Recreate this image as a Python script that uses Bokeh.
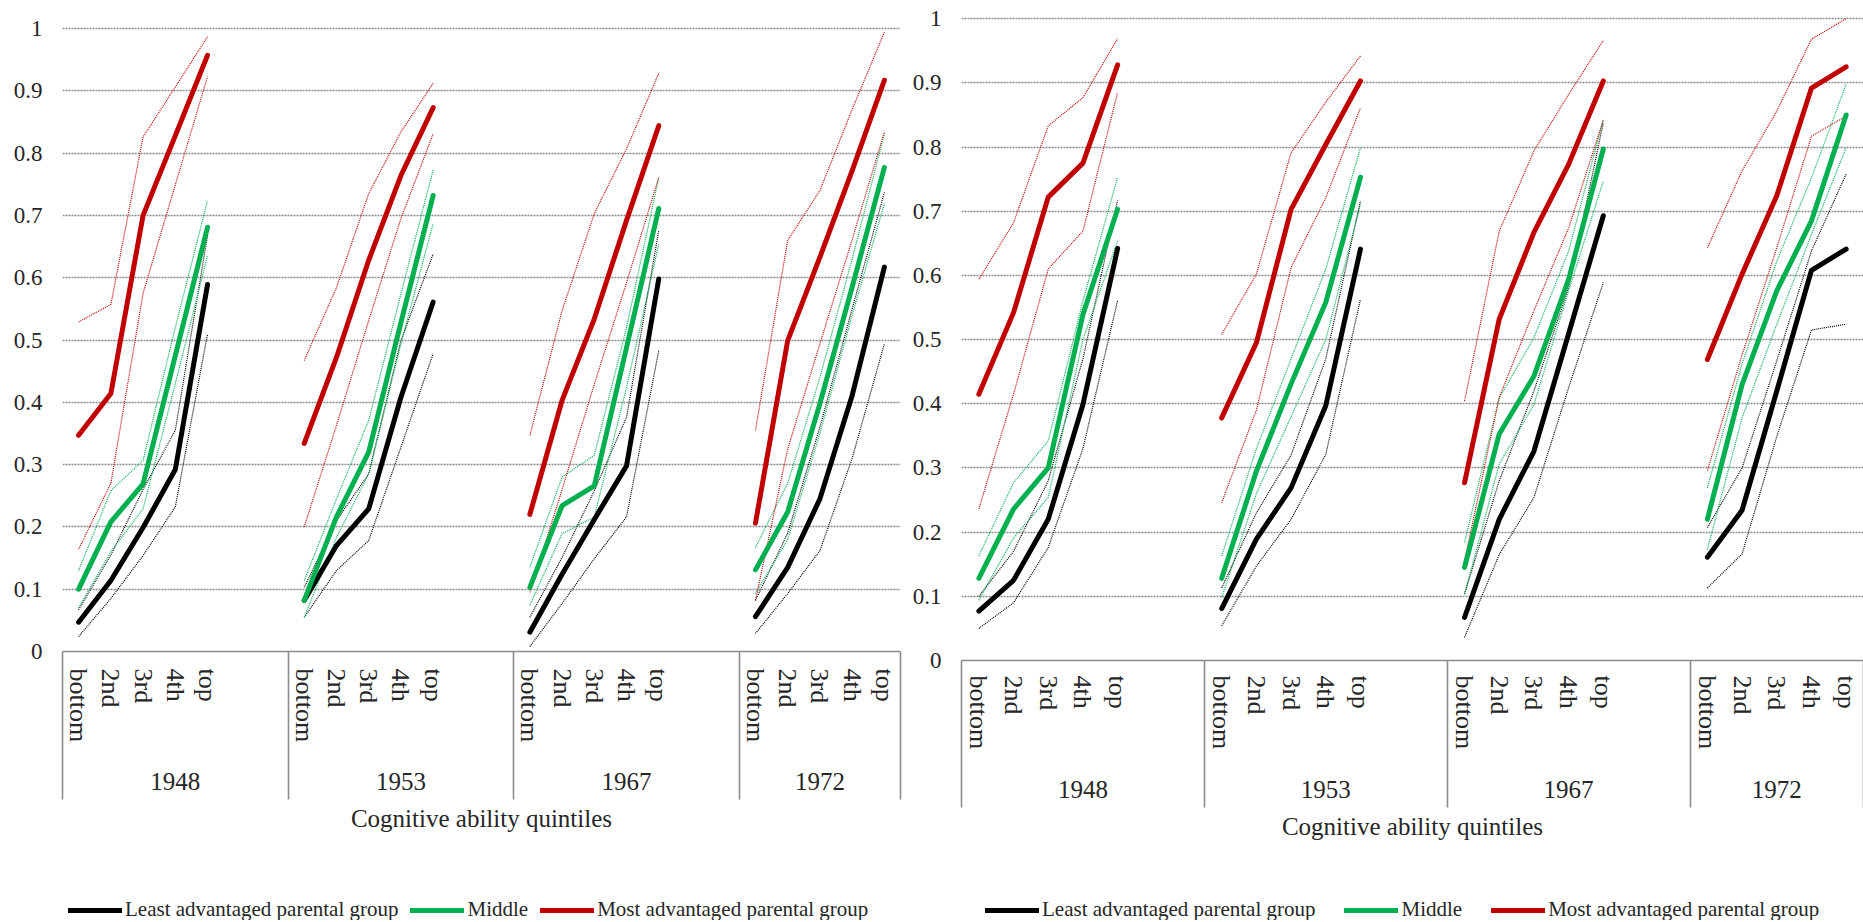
import numpy as np
from bokeh.plotting import figure
from bokeh.models import Range1d, FixedTicker, LinearAxis, Legend, LegendItem, ColumnDataSource
from bokeh.layouts import row, column
from bokeh.embed import file_html
from bokeh.resources import INLINE

# ---------------- data ----------------
QUINTILES = ["bottom", "2nd", "3rd", "4th", "top"]
YEARS = ["1948", "1953", "1967", "1972"]
GROUPS = ["Least advantaged parental group", "Middle", "Most advantaged parental group"]
YTICKS = [0.0, 0.1, 0.2, 0.3, 0.4, 0.5, 0.6, 0.7, 0.8, 0.9, 1.0]
YLABELS = ["0", "0.1", "0.2", "0.3", "0.4", "0.5", "0.6", "0.7", "0.8", "0.9", "1"]

# Left panel (A): 4 years x 5 quintiles each
A_least_est = [0.047, 0.114, 0.199, 0.292, 0.589, 0.082, 0.170, 0.229, 0.408, 0.561,
               0.031, 0.124, 0.212, 0.298, 0.598, 0.056, 0.135, 0.245, 0.411, 0.617]
A_least_lo = [0.024, 0.085, 0.154, 0.232, 0.510, 0.055, 0.130, 0.178, 0.328, 0.478,
              0.008, 0.077, 0.149, 0.216, 0.483, 0.029, 0.093, 0.162, 0.310, 0.494]
A_least_hi = [0.067, 0.155, 0.260, 0.355, 0.668, 0.103, 0.210, 0.285, 0.499, 0.638,
              0.055, 0.151, 0.258, 0.376, 0.676, 0.082, 0.190, 0.360, 0.550, 0.737]
A_mid_est = [0.100, 0.208, 0.269, 0.475, 0.681, 0.082, 0.216, 0.320, 0.528, 0.732,
             0.103, 0.234, 0.266, 0.488, 0.711, 0.131, 0.224, 0.398, 0.585, 0.777]
A_mid_lo = [0.070, 0.160, 0.229, 0.430, 0.636, 0.055, 0.183, 0.285, 0.494, 0.687,
            0.074, 0.189, 0.216, 0.424, 0.654, 0.093, 0.180, 0.350, 0.540, 0.719]
A_mid_hi = [0.130, 0.258, 0.307, 0.520, 0.724, 0.114, 0.245, 0.371, 0.574, 0.773,
            0.135, 0.280, 0.315, 0.520, 0.761, 0.167, 0.270, 0.440, 0.630, 0.831]
A_most_est = [0.347, 0.414, 0.700, 0.828, 0.957, 0.334, 0.472, 0.628, 0.764, 0.873,
              0.220, 0.403, 0.534, 0.692, 0.844, 0.206, 0.499, 0.633, 0.772, 0.917]
A_most_lo = [0.164, 0.270, 0.575, 0.749, 0.923, 0.200, 0.363, 0.531, 0.695, 0.831,
             0.095, 0.260, 0.429, 0.592, 0.761, 0.082, 0.325, 0.494, 0.661, 0.834]
A_most_hi = [0.529, 0.557, 0.826, 0.906, 0.987, 0.467, 0.584, 0.735, 0.834, 0.912,
             0.347, 0.547, 0.703, 0.807, 0.928, 0.355, 0.660, 0.740, 0.870, 0.994]

# Right panel (B)
B_least_est = [0.077, 0.125, 0.220, 0.399, 0.642, 0.081, 0.189, 0.269, 0.397, 0.641,
               0.067, 0.220, 0.326, 0.509, 0.693, 0.161, 0.234, 0.420, 0.608, 0.641]
B_least_lo = [0.050, 0.090, 0.176, 0.330, 0.561, 0.054, 0.147, 0.220, 0.321, 0.563,
              0.036, 0.165, 0.254, 0.425, 0.589, 0.113, 0.166, 0.349, 0.515, 0.524]
B_least_hi = [0.100, 0.170, 0.280, 0.470, 0.717, 0.113, 0.230, 0.320, 0.470, 0.716,
              0.104, 0.280, 0.420, 0.581, 0.838, 0.207, 0.300, 0.467, 0.638, 0.758]
B_mid_est = [0.128, 0.236, 0.300, 0.539, 0.703, 0.128, 0.295, 0.431, 0.558, 0.753,
             0.145, 0.353, 0.443, 0.594, 0.797, 0.220, 0.430, 0.576, 0.685, 0.850]
B_mid_lo = [0.094, 0.191, 0.254, 0.500, 0.654, 0.098, 0.260, 0.380, 0.500, 0.711,
            0.103, 0.306, 0.399, 0.576, 0.747, 0.173, 0.378, 0.524, 0.664, 0.799]
B_mid_hi = [0.163, 0.277, 0.342, 0.560, 0.753, 0.163, 0.330, 0.470, 0.610, 0.799,
            0.184, 0.409, 0.503, 0.638, 0.843, 0.269, 0.462, 0.622, 0.752, 0.898]
B_most_est = [0.415, 0.542, 0.722, 0.775, 0.928, 0.378, 0.495, 0.703, 0.804, 0.903,
              0.277, 0.532, 0.667, 0.773, 0.903, 0.469, 0.602, 0.724, 0.892, 0.925]
B_most_lo = [0.236, 0.415, 0.610, 0.669, 0.885, 0.246, 0.390, 0.612, 0.721, 0.861,
             0.155, 0.410, 0.545, 0.674, 0.842, 0.296, 0.476, 0.643, 0.817, 0.848]
B_most_hi = [0.594, 0.682, 0.833, 0.877, 0.969, 0.508, 0.602, 0.791, 0.870, 0.942,
             0.404, 0.669, 0.794, 0.882, 0.966, 0.643, 0.763, 0.856, 0.968, 1.000]

# ---------------- styling ----------------
FONT = "Liberation Serif"
TXT = "#262626"
COLORS = ["#000000", "#00B050", "#C00000"]
GAP = 2          # empty category slots between year groups
NQ = len(QUINTILES)
STEP = NQ + GAP
NSLOT = STEP * (len(YEARS) - 1) + NQ
MAIN_H = 860
LEG_H = 60
EST_STYLE = dict(line_width=5, line_cap="round", line_join="round")


def segs(vals):
    xs, ys = [], []
    for k in range(len(YEARS)):
        xs.append([STEP * k + q + 0.5 for q in range(NQ)])
        ys.append(list(vals[NQ * k:NQ * (k + 1)]))
    return xs, ys


def make_panel(series, width, left, right, top, frame_h, ymax, sep_len,
               standoff_q, standoff_y, title_standoff):
    p = figure(width=width, height=MAIN_H, x_range=Range1d(0, NSLOT), y_range=Range1d(0, ymax),
               output_backend="svg", toolbar_location=None, title=None,
               min_border_left=left, min_border_right=right, min_border_top=top,
               min_border_bottom=MAIN_H - top - frame_h,
               outline_line_color=None, background_fill_color="white", border_fill_color="white")
    # grid
    p.xgrid.grid_line_color = None
    p.ygrid.ticker = FixedTicker(ticks=YTICKS[1:])
    p.ygrid.grid_line_color = "#8a8a8a"
    p.ygrid.grid_line_dash = "2 1"
    p.ygrid.grid_line_width = 1.4

    # y axis
    ya = p.yaxis[0]
    ya.ticker = FixedTicker(ticks=YTICKS)
    ya.major_label_overrides = dict(zip(YTICKS, YLABELS))
    ya.axis_line_color = None
    ya.major_tick_line_color = None
    ya.minor_tick_line_color = None
    ya.major_tick_out = 0
    ya.major_tick_in = 0
    ya.major_label_standoff = 20
    ya.major_label_text_font = FONT
    ya.major_label_text_font_size = "23px"
    ya.major_label_text_color = TXT

    # x axis 1: quintiles, group separators drawn as (outward) minor ticks
    centers = [STEP * k + q + 0.5 for k in range(len(YEARS)) for q in range(NQ)]
    labels = [QUINTILES[q] for k in range(len(YEARS)) for q in range(NQ)]
    seps = [STEP * k for k in range(len(YEARS))] + [NSLOT]
    xa = p.xaxis[0]
    xa.ticker = FixedTicker(ticks=centers, minor_ticks=seps)
    xa.major_label_overrides = dict(zip(centers, labels))
    xa.major_label_orientation = "vertical"
    xa.major_tick_line_color = None
    xa.major_tick_out = 0
    xa.major_tick_in = 0
    xa.minor_tick_out = 0
    xa.minor_tick_in = -sep_len
    xa.minor_tick_line_color = "#8c8c8c"
    xa.minor_tick_line_width = 1.6
    xa.axis_line_color = "#8c8c8c"
    xa.axis_line_width = 1.6
    xa.major_label_standoff = standoff_q
    xa.major_label_text_font = FONT
    xa.major_label_text_font_size = "26px"
    xa.major_label_text_color = TXT

    # x axis 2: years + axis title
    ycent = [STEP * k + NQ / 2 + (GAP / 2 if k < len(YEARS) - 1 else 0) for k in range(len(YEARS))]
    ax2 = LinearAxis(ticker=FixedTicker(ticks=ycent), major_label_overrides=dict(zip(ycent, YEARS)),
                     axis_line_color=None, major_tick_line_color=None, minor_tick_line_color=None,
                     major_tick_out=0, major_tick_in=0,
                     major_label_standoff=standoff_y, major_label_text_font=FONT,
                     major_label_text_font_size="25px", major_label_text_color=TXT,
                     axis_label="Cognitive ability quintiles", axis_label_text_font=FONT,
                     axis_label_text_font_size="25px", axis_label_text_font_style="normal",
                     axis_label_text_color=TXT, axis_label_standoff=title_standoff)
    p.add_layout(ax2, "below")

    # confidence bounds (dotted)
    for (est, lo, hi), c in zip(series, COLORS):
        for b in (lo, hi):
            xs, ys = segs(b)
            p.multi_line(xs, ys, line_color=c, line_width=1.2, line_dash="1 1")
    # point estimates
    for (est, lo, hi), c in zip(series, COLORS):
        xs, ys = segs(est)
        p.multi_line(xs, ys, line_color=c, **EST_STYLE)
    return p


def make_legend(width, left, right, leg_x, leg_spacing):
    lf = figure(width=width, height=LEG_H, x_range=Range1d(0, 1), y_range=Range1d(0, 1),
                output_backend="svg", toolbar_location=None, title=None,
                x_axis_location=None, y_axis_location=None,
                min_border_left=left, min_border_right=right, min_border_top=0, min_border_bottom=0,
                outline_line_color=None, background_fill_color="white", border_fill_color="white")
    lf.xgrid.grid_line_color = None
    lf.ygrid.grid_line_color = None
    # legend-only line renderers: NaN placeholders (draw nothing), they carry the series styles
    rends = []
    for c in COLORS:
        src = ColumnDataSource(data=dict(x=np.array([np.nan, np.nan]), y=np.array([np.nan, np.nan])))
        rends.append(lf.line(x="x", y="y", source=src, line_color=c, **EST_STYLE))
    legend = Legend(items=[LegendItem(label=g, renderers=[r], index=0) for g, r in zip(GROUPS, rends)],
                    orientation="horizontal", location=(leg_x, -2), border_line_color=None,
                    background_fill_alpha=0, glyph_width=54, glyph_height=20, label_standoff=3,
                    spacing=leg_spacing, padding=0, margin=0,
                    label_text_font=FONT, label_text_font_size="21px", label_text_color=TXT)
    lf.add_layout(legend)
    return lf


seriesA = [(A_least_est, A_least_lo, A_least_hi), (A_mid_est, A_mid_lo, A_mid_hi),
           (A_most_est, A_most_lo, A_most_hi)]
seriesB = [(B_least_est, B_least_lo, B_least_hi), (B_mid_est, B_mid_lo, B_mid_hi),
           (B_most_est, B_most_lo, B_most_hi)]

pA = make_panel(seriesA, width=904, left=62, right=4, top=20, frame_h=631,
                ymax=631 / 623, sep_len=148, standoff_q=17, standoff_y=27, title_standoff=12)
pB = make_panel(seriesB, width=959, left=57, right=0, top=10, frame_h=650,
                ymax=650 / 641.8, sep_len=147, standoff_q=15, standoff_y=28, title_standoff=12)
lA = make_legend(904, 62, 4, leg_x=6, leg_spacing=12)
lB = make_legend(959, 57, 0, leg_x=24, leg_spacing=29)

layout = row(column(pA, lA), column(pB, lB))
open("out.html", "w").write(file_html(layout, INLINE))
